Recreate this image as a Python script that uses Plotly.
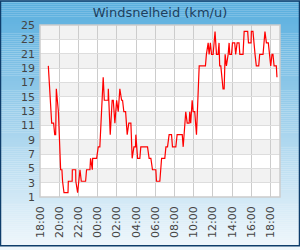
import plotly.graph_objects as go
from datetime import datetime, timedelta

# Data (time of day, wind speed km/h)
times = ["18:52","19:13","19:25","19:32","19:38","19:42","19:55","20:09","20:17","20:21","20:30","20:55","20:57",
         "21:21","21:22","21:43","21:44","21:55","22:10","22:18","22:45","22:51","23:12","23:16","23:27","23:29",
         "23:54","00:04","00:14","00:35","00:42","01:06","01:07","01:19","01:31","01:38","01:48","01:59","02:09",
         "02:19","02:30","02:36","02:44","02:55","03:05","03:15","03:28","03:36","03:47","03:57","03:59","04:10",
         "04:24","04:30","05:12","05:22","05:33","05:43","06:04","06:08","06:29","06:40","07:00","07:07","07:17",
         "07:27","07:42","07:48","08:09","08:17","08:49","08:55","09:11","09:20","09:32","09:36","09:42","09:51",
         "09:57","10:07","10:18","10:35","11:14","11:20","11:31","11:37","11:45","11:52","12:02","12:14","12:23",
         "12:33","12:39","12:43","12:50","13:04","13:11","13:17","13:25","13:36","13:42","13:46","13:57","14:03",
         "14:17","14:23","14:32","14:44","14:49","15:09","15:16","15:38","15:43","15:59","16:01","16:11","16:24",
         "16:32","16:47","16:53","17:14","17:26","17:35","17:47","18:02","18:10","18:16","18:23","18:37","18:41"]
speeds = [19.3,11.3,11.3,9.7,9.7,16.1,12.9,4.8,4.8,3.2,1.6,1.6,3.2,
          3.2,4.8,4.8,3.2,1.6,4.8,3.2,3.2,4.8,4.8,6.4,4.8,6.4,
          6.4,8.0,8.0,17.7,14.5,14.5,16.1,9.7,14.5,14.5,11.3,14.5,12.9,
          16.1,14.5,14.5,12.9,12.9,9.7,11.3,11.3,6.4,8.0,8.0,9.7,6.4,
          6.4,8.0,8.0,6.4,6.4,4.8,4.8,3.2,3.2,6.4,6.4,8.0,8.0,
          9.7,9.7,8.0,8.0,9.7,9.7,8.0,12.9,11.3,11.3,12.9,11.3,14.5,
          12.9,12.9,9.7,19.3,19.3,20.9,22.5,20.9,22.5,20.9,20.9,24.1,20.9,
          20.9,22.5,19.3,19.3,16.1,16.1,20.9,19.3,20.9,22.5,20.9,20.9,22.5,
          22.5,20.9,22.5,22.5,20.9,20.9,24.1,24.1,22.5,22.5,24.1,24.1,20.9,
          19.3,19.3,20.9,20.9,24.1,22.5,22.5,19.3,20.9,20.9,19.3,19.3,17.7]
y_ticks = list(range(1, 26, 2))

start = datetime(2024, 5, 1, 18, 0)
def to_dt(s):
    h, m = map(int, s.split(":"))
    d = start.replace(hour=h, minute=m)
    if h < 18 or (h == 18 and d < start + timedelta(hours=0)):
        d += timedelta(days=1)
    return d
# after midnight wrap, times at 18:xx at the end belong to day 2
xs = []
seen_wrap = False
prev = None
for s in times:
    h, m = map(int, s.split(":"))
    if prev is not None and h < prev:
        seen_wrap = True
    d = start.replace(hour=h, minute=m) + (timedelta(days=1) if seen_wrap else timedelta(0))
    xs.append(d)
    prev = h

W, H = 300, 250
ml, mr, mt, mb = 40, 20, 25, 50
pw, ph = W - ml - mr, H - mt - mb

shapes = []
# gradient background stripes
top = (88, 174, 222)
bot = (238, 246, 251)
n = 125
y0p = -mb / ph
y1p = 1 + mt / ph
x0p = -ml / pw
x1p = 1 + mr / pw
for i in range(n):
    f = i / (n - 1)
    c = tuple(round(top[k] + (bot[k] - top[k]) * f) for k in range(3))
    ya = y1p - (y1p - y0p) * i / n
    yb = y1p - (y1p - y0p) * (i + 1) / n
    shapes.append(dict(type="rect", xref="paper", yref="paper", x0=x0p, x1=x1p, y0=yb, y1=ya,
                       fillcolor="rgb(%d,%d,%d)" % c, line=dict(width=0), layer="below"))
# plot area bands
for j, v in enumerate(range(1, 25, 2)):
    col = "#f2f2f2" if (j % 2 == 1) else "#ffffff"
    shapes.append(dict(type="rect", xref="paper", yref="y", x0=0, x1=1, y0=v, y1=v + 2,
                       fillcolor=col, line=dict(width=0), layer="below"))
# plot frame
shapes.append(dict(type="rect", xref="paper", yref="paper", x0=0, x1=1, y0=0, y1=1,
                   line=dict(color="#cccccc", width=1.5), layer="above"))
# outer border
shapes.append(dict(type="rect", xref="paper", yref="paper", x0=x0p + 0.5/pw, x1=x1p - 0.5/pw,
                   y0=y0p + 0.5/ph, y1=y1p - 0.5/ph,
                   line=dict(color="#0e3d6b", width=1.5), layer="above"))

fig = go.Figure(go.Scatter(x=xs, y=speeds, mode="lines", line=dict(color="#ff0000", width=1.2),
                           hoverinfo="skip"))
fig.update_layout(
    width=W, height=H, margin=dict(l=ml, r=mr, t=mt, b=mb),
    paper_bgcolor="#eef6fb", plot_bgcolor="rgba(0,0,0,0)",
    showlegend=False,
    font=dict(family="DejaVu Sans", size=11, color="#444444"),
    title=dict(text="Windsnelheid (km/u)", x=0.5, xref="paper", xanchor="center",
               y=1 - 12.5 / H, yanchor="middle", yref="container",
               font=dict(family="DejaVu Sans", size=13, color="#1d3f5e")),
    shapes=shapes,
)
fig.update_xaxes(range=[start, start + timedelta(hours=25)], tick0=start, dtick=2 * 3600 * 1000,
                 tickformat="%H:%M", tickangle=-90, showgrid=True, gridcolor="#cccccc", gridwidth=1,
                 zeroline=False, showline=False, ticks="", ticklabelstandoff=6,
                 tickfont=dict(size=11, color="#444444"))
fig.update_yaxes(range=[1, 25], tickvals=y_ticks, showgrid=True, gridcolor="#dddddd", gridwidth=1,
                 zeroline=False, showline=False, ticks="", ticklabelstandoff=4,
                 tickfont=dict(size=11, color="#444444"))
fig.write_html("out.html")
